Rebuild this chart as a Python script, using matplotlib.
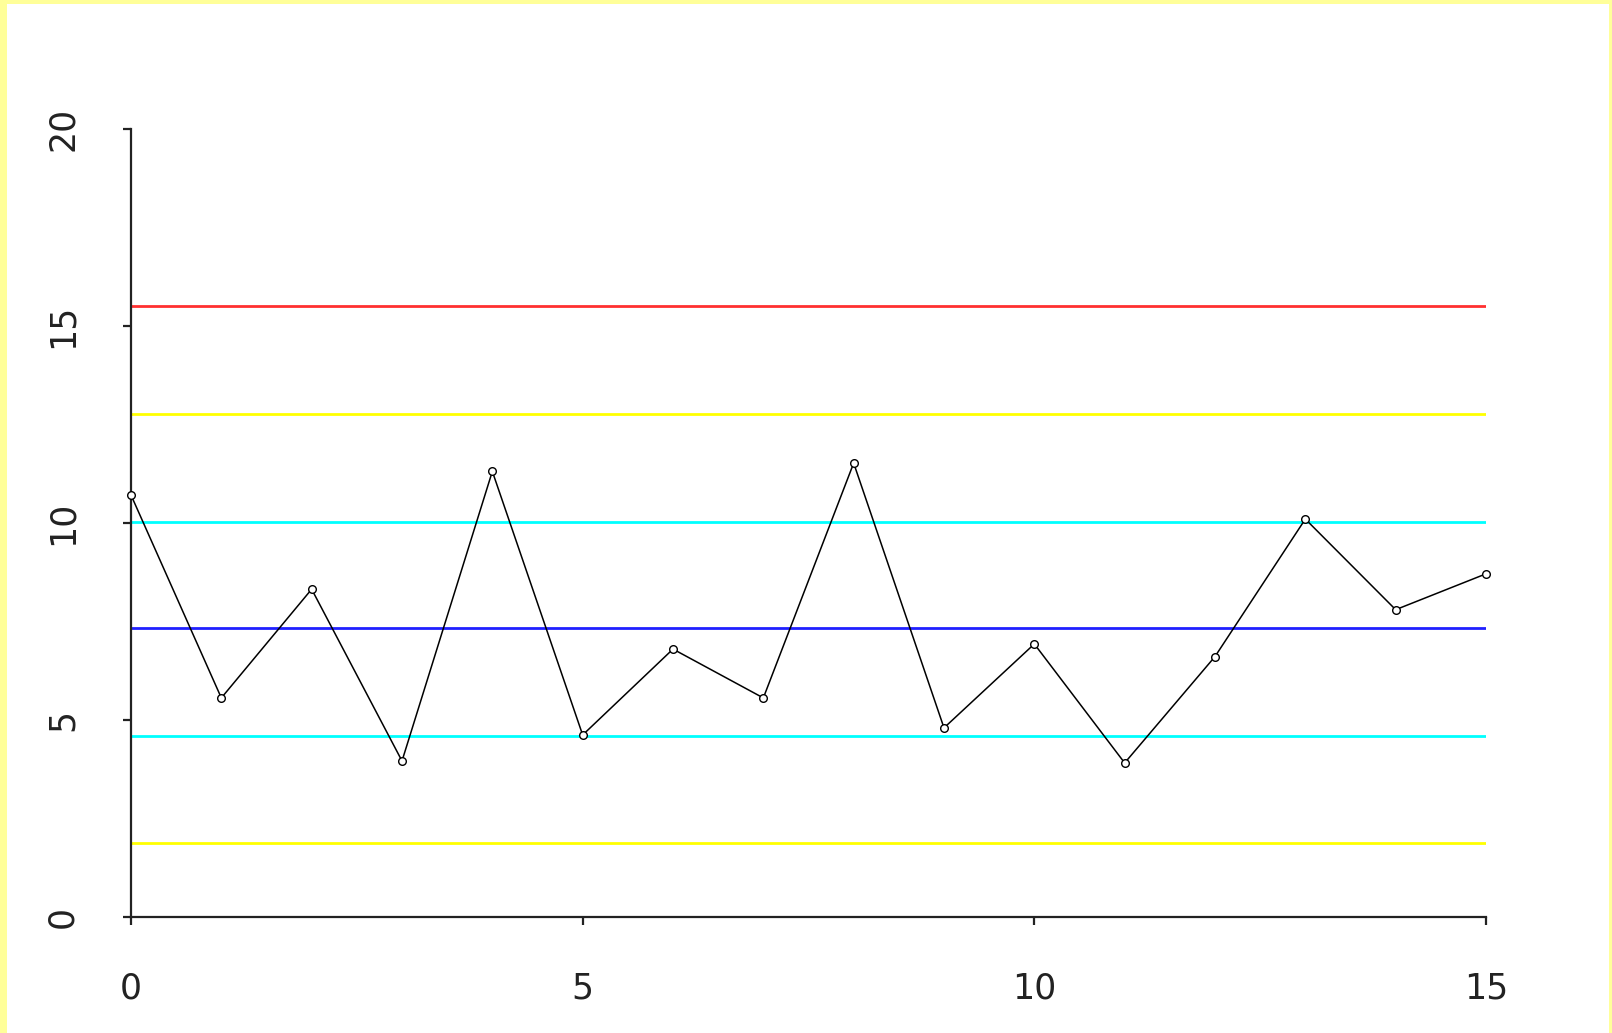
import matplotlib
matplotlib.use("Agg")
import matplotlib.pyplot as plt
from matplotlib.patches import Rectangle

# Sample measurements
samples = list(range(16))
values = [10.71, 5.56, 8.32, 3.96, 11.31, 4.62, 6.80, 5.56,
          11.52, 4.80, 6.93, 3.91, 6.61, 10.10, 7.80, 8.71]

# Control levels: centre line, 1/2/3 sigma limits
center = 7.33
sigma_1 = [10.03, 4.60]
sigma_2 = [12.76, 1.87]
sigma_3_upper = 15.50

x_ticks = [0, 5, 10, 15]
y_ticks = [0, 5, 10, 15, 20]

W, H, DPI = 1612, 1033, 100
fig = plt.figure(figsize=(W / DPI, H / DPI), dpi=DPI, facecolor="white")

# pale yellow frame on the left, top and right edges
border = "#FFFF99"
fig.patches.append(Rectangle((0, 0), 7 / W, 1, transform=fig.transFigure,
                             facecolor=border, edgecolor="none"))
fig.patches.append(Rectangle((0, 1 - 4 / H), 1, 4 / H, transform=fig.transFigure,
                             facecolor=border, edgecolor="none"))
fig.patches.append(Rectangle((1 - 3 / W, 0), 3 / W, 1, transform=fig.transFigure,
                             facecolor=border, edgecolor="none"))

left, right = 131 / W, 1486 / W
bottom, top = (H - 917) / H, (H - 129) / H
ax = fig.add_axes([left, bottom, right - left, top - bottom])
ax.set_facecolor("white")

x0, x1 = samples[0], samples[-1]
lw_lim = 2.0
ax.hlines(sigma_3_upper, x0, x1, colors="#FF3030", linewidth=lw_lim, zorder=2)
ax.hlines(sigma_2, x0, x1, colors="#FFFF00", linewidth=lw_lim, zorder=2)
ax.hlines(sigma_1, x0, x1, colors="#00FFFF", linewidth=lw_lim, zorder=2)
ax.hlines(center, x0, x1, colors="#2020FF", linewidth=lw_lim, zorder=2)

ax.plot(samples, values, color="black", linewidth=1.1, marker="o",
        markersize=5.5, markerfacecolor="white", markeredgecolor="black",
        markeredgewidth=1.0, clip_on=False, zorder=3)

ax.set_xlim(0, 15)
ax.set_ylim(0, 20)
ax.set_xticks(x_ticks)
ax.set_yticks(y_ticks)

for s in ("top", "right"):
    ax.spines[s].set_visible(False)
for s in ("left", "bottom"):
    ax.spines[s].set_linewidth(1.6)
    ax.spines[s].set_color("#222222")

font = {"family": "DejaVu Sans", "size": 25}
ax.set_xticklabels([str(t) for t in x_ticks], fontdict=font)
ax.set_yticklabels([str(t) for t in y_ticks], fontdict=font, rotation=90, va="center")
ax.tick_params(axis="both", length=6, width=1.6, color="#222222", labelcolor="#222222")
ax.tick_params(axis="x", pad=33)
ax.tick_params(axis="y", pad=31)

fig.savefig("out.png", dpi=DPI, facecolor="white")
